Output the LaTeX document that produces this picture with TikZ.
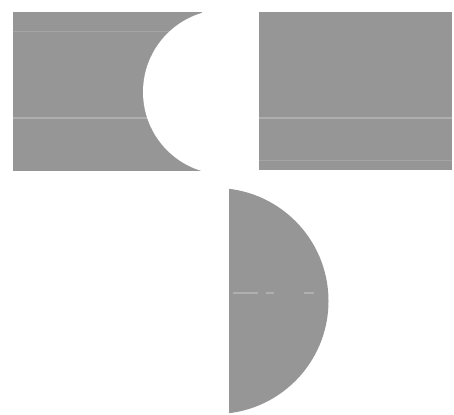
\documentclass[tikz,border=0pt]{standalone}
\definecolor{shade}{RGB}{150,150,150}
\definecolor{streak}{RGB}{175,175,175}
\tikzset{px/.style={x=1pt,y=-1pt}, piece/.style={fill=shade}, streakline/.style={draw=streak, line width=2pt}}
\begin{document}
\begin{tikzpicture}[px]
\useasboundingbox (0,0) rectangle (454,414);
% left plate with circular notch
\begin{scope}
\clip (13,12) rectangle (202,171);
\fill[piece] (13,12) rectangle (202,171);
\draw[streakline] (13,118) -- (202,118);
\draw[streakline, line width=1pt, draw=streak!60!shade] (13,32) -- (202,32);
\fill[white] (225.5,92) circle (82.5);
\end{scope}
% right plate
\fill[piece] (259,12) rectangle (452,170);
\draw[streakline] (259,118) -- (452,118);
\draw[streakline, line width=1pt, draw=streak!60!shade] (259,160) -- (452,160);
% half disk
\begin{scope}
\clip (229,180) rectangle (350,414);
\fill[piece] (215.5,301) circle (113);
\end{scope}
\draw[streakline, dashed, dash pattern=on 25pt off 8pt on 8pt off 30pt on 10pt off 20pt] (233,293) -- (326,293);
\end{tikzpicture}
\end{document}
